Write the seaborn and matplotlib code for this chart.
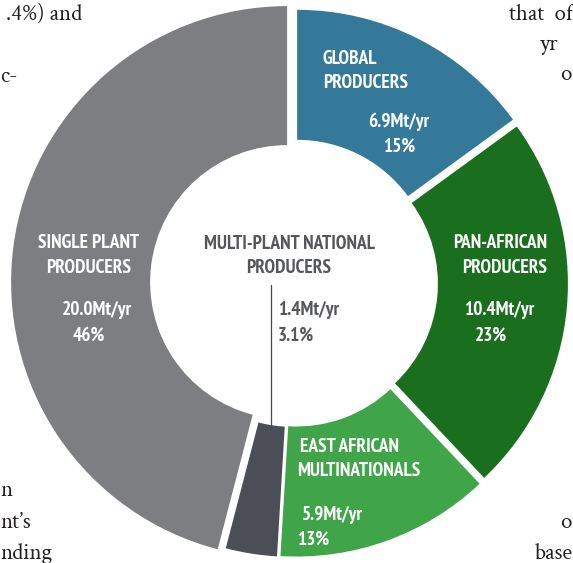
import matplotlib
matplotlib.use("Agg")
import matplotlib.pyplot as plt
from matplotlib.lines import Line2D
from matplotlib import font_manager
import seaborn as sns

# Cement capacity by producer group
groups = ["GLOBAL\nPRODUCERS", "PAN-AFRICAN\nPRODUCERS", "EAST AFRICAN\nMULTINATIONALS",
          "MULTI-PLANT NATIONAL\nPRODUCERS", "SINGLE PLANT\nPRODUCERS"]
capacity_mt = [6.9, 10.4, 5.9, 1.4, 20.0]
share_pct = [15, 23, 13, 3.1, 46]
colors = ["#34789a", "#1a6f1e", "#3fa548", "#4b4e57", "#7c7e81"]

sns.set_theme(style="white")
W, H = 573, 563
fig = plt.figure(figsize=(W / 100, H / 100), dpi=100)
ax = fig.add_axes([0, 0, 1, 1])

R = 267.0           # outer radius in px
CX, CY = 294.0, 283.0

wedges, _ = ax.pie(share_pct, colors=colors, startangle=90, counterclock=False,
                   radius=1.0, explode=[0.026] * len(share_pct),
                   wedgeprops=dict(width=130 / R, linewidth=0))
# the single-plant segment is drawn a little larger than the others
big = wedges[-1]
big.set_radius(276 / R)
big.set_width(139 / R)

ax.set_xlim(-CX / R, (W - CX) / R)
ax.set_ylim(-(H - CY) / R, CY / R)
ax.set_aspect("equal")
ax.axis("off")

# condensed bold face for the labels: first one installed with a bold weight
bold_names = {f.name for f in font_manager.fontManager.ttflist
              if isinstance(f.weight, int) and f.weight >= 700 or f.weight == "bold"}
all_names = {f.name for f in font_manager.fontManager.ttflist}
CANDIDATES = [("PT Sans Narrow", "normal"), ("Fira Sans Condensed", "normal"),
              ("Roboto Condensed", "normal"), ("Open Sans Condensed", "normal"),
              ("Asap Condensed", "normal"), ("Liberation Sans Narrow", "normal"),
              ("DejaVu Sans", "condensed")]
FONT, STRETCH = next(c for c in CANDIDATES if c[0] in bold_names)
FAMILY = [FONT, "DejaVu Sans"]
SERIF = [f for f in ["Crimson Text", "Crimson Pro", "EB Garamond", "Liberation Serif"]
         if f in all_names][:1] + ["DejaVu Serif"]

# size the label face so that "PRODUCERS" is about 85 px wide
renderer = fig.canvas.get_renderer()
probe = fig.text(0, 0, "PRODUCERS", fontsize=10, fontweight="bold",
                 family=FAMILY, fontstretch=STRETCH)
SIZE = 10 * 85 / probe.get_window_extent(renderer).width
probe.remove()


def put(txt, px, py, ha="center", color="white"):
    fig.text(px / W, 1 - py / H, txt, ha=ha, va="center", color=color,
             fontsize=SIZE, fontweight="bold", family=FAMILY, fontstretch=STRETCH)


def label(i, name_xy, val_xy, pct_xy, ha_name="center", ha_val="center", color="white"):
    l1, l2 = groups[i].split("\n")
    put(l1, *name_xy[0], ha=ha_name, color=color)
    put(l2, *name_xy[1], ha=ha_name, color=color)
    put(f"{capacity_mt[i]:.1f}Mt/yr", *val_xy, ha=ha_val, color=color)
    put(f"{share_pct[i]:g}%", *pct_xy, ha=ha_val, color=color)


label(0, [(323, 59), (323, 83)], (399, 122), (399, 147), ha_name="left")
label(1, [(500, 243), (505, 268)], (499, 310), (491, 336))
label(2, [(300, 447), (297, 471)], (302, 515), (297, 540), ha_name="left", ha_val="left")
label(4, [(89, 243), (89, 268)], (97, 310), (89, 336))

# centre label for the small multi-plant segment with a leader line
dark = "#55575a"
put("MULTI-PLANT NATIONAL", 289, 244, color=dark)
put("PRODUCERS", 289, 268, color=dark)
put(f"{capacity_mt[3]:.1f}Mt/yr", 278, 310, ha="left", color=dark)
put(f"{share_pct[3]:g}%", 278, 336, ha="left", color=dark)
fig.add_artist(Line2D([271 / W, 271 / W], [1 - 285 / H, 1 - 428 / H],
                      transform=fig.transFigure, color="#4a4a4a", lw=0.9))

# surrounding body text of the page
body = [(".4%) and", 82, 20, "right"), ("c-", 0, 82, "left"),
        ("n", 0, 496, "left"), ("nt\u2019s", 0, 528, "left"), ("nding", 0, 559, "left"),
        ("that  of", 573, 20, "right"), ("yr", 540, 50, "left"), ("o", 560, 80, "left"),
        ("o", 560, 528, "left"), ("base", 535, 559, "left")]
for txt, px, py, ha in body:
    fig.text(px / W, 1 - py / H, txt, ha=ha, va="baseline", color="#231f20",
             fontsize=16.5, family=SERIF)

fig.savefig("out.png", dpi=100)
